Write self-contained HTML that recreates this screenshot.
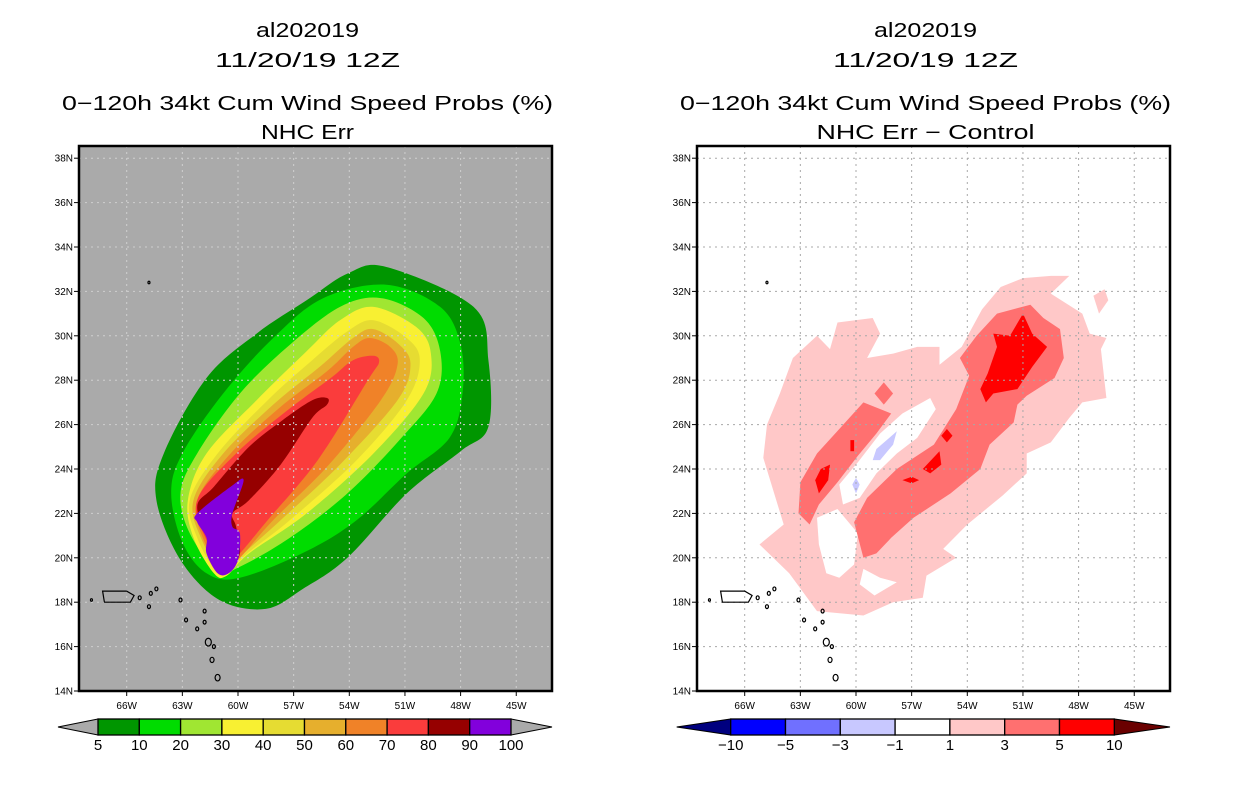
<!DOCTYPE html>
<html><head><meta charset="utf-8"><style>
html,body{margin:0;padding:0;background:#fff;}
svg{display:block;font-family:"Liberation Sans",sans-serif;}
</style></head><body>
<svg id="fig" width="1236" height="800" viewBox="0 0 1236 800" xmlns="http://www.w3.org/2000/svg">
<rect x="0" y="0" width="1236" height="800" fill="#fff"/>
<g id="left"></g>
<g id="right"></g>
</svg>
<script>
// ---------- data ----------
const lonTicks = [66,63,60,57,54,51,48,45];
const latTicks = [14,16,18,20,22,24,26,28,30,32,34,36,38];
const probLevels = ['5','10','20','30','40','50','60','70','80','90','100'];
const probColors = ['#009600','#00dc00','#a0e632','#f8f032','#e6dc32','#e6af2d','#f08228','#fa3c3c','#960000','#8200dc'];
const diffLevels = ['\u221210','\u22125','\u22123','\u22121','1','3','5','10'];
const diffColors = ['#0000ff','#7070ff','#c8c8ff','#ffffff','#ffc8c8','#ff7070','#ff0000'];
// probability contours (deg W, deg N), outer to inner
const p05 = [[52.0,33.1],[47.3,31.3],[46.5,28.9],[46.5,25.9],[48.0,24.8],[50.9,22.9],[54.1,20.0],[56.5,18.6],[58.5,17.7],[61.0,18.1],[63.1,19.9],[64.4,22.6],[64.0,24.7],[61.7,28.1],[59.0,30.1],[56.3,31.6],[54.1,32.8]];
const p10 = [[52.0,32.3],[49.1,31.3],[48.0,29.6],[47.9,27.4],[48.6,25.4],[50.9,23.8],[53.6,21.7],[56.3,20.3],[59.9,19.1],[61.7,19.3],[63.0,20.7],[63.6,22.9],[63.0,24.7],[60.8,27.4],[58.1,29.9],[55.4,31.7]];
const p20 = [[52.3,31.7],[50.0,30.8],[49.1,29.3],[49.3,27.4],[51.3,25.3],[54.1,22.9],[57.2,20.9],[59.9,19.6],[61.1,19.4],[62.6,21.1],[63.1,22.9],[62.2,24.7],[59.9,27.4],[57.2,29.6],[54.5,31.3]];
const p30 = [[52.7,31.3],[50.4,30.4],[49.6,29.2],[50.0,27.4],[52.7,24.7],[56.3,22.0],[59.4,20.2],[60.6,19.2],[61.3,19.3],[62.4,20.9],[62.7,22.6],[61.7,24.7],[59.0,27.1],[56.3,29.3],[54.5,30.7]];
const p40 = [[52.7,30.7],[50.9,29.9],[50.2,28.9],[50.9,27.1],[53.6,24.4],[57.2,21.7],[59.5,20.2],[60.6,19.3],[61.2,19.4],[62.2,20.9],[62.6,22.6],[61.1,24.7],[58.4,27.1],[56.0,28.9],[54.1,30.2]];
const p50 = [[52.7,30.3],[51.3,29.6],[50.7,28.7],[51.4,27.1],[54.5,24.2],[57.7,21.7],[59.7,20.2],[60.8,19.4],[62.0,20.9],[62.4,22.6],[60.8,24.7],[58.1,26.9],[55.6,28.6],[53.8,29.9]];
const p60 = [[52.9,29.9],[51.8,29.5],[51.4,28.7],[52.3,27.1],[55.2,24.1],[58.1,21.7],[59.9,20.0],[60.8,19.5],[61.9,20.9],[62.2,22.6],[60.4,24.7],[57.7,26.8],[55.2,28.4],[53.8,29.5]];
const p70 = [[52.7,29.1],[52.4,28.8],[53.0,28.0],[55.7,24.4],[58.4,21.7],[59.9,20.2],[60.7,19.6],[61.7,20.8],[62.2,22.6],[60.1,24.7],[57.4,26.6],[55.0,28.1],[53.8,28.9]];
const p80 = [[55.2,27.2],[55.2,26.9],[56.0,26.3],[57.7,24.2],[59.4,22.6],[60.3,22.0],[60.1,21.4],[59.9,20.2],[60.5,19.6],[61.5,20.7],[62.2,22.3],[61.3,23.2],[59.4,25.0],[57.6,26.2],[56.0,27.1]];
const p90 = [[59.7,23.5],[60.3,22.0],[60.3,21.4],[59.9,21.1],[60.0,19.9],[60.5,19.3],[61.1,19.3],[61.7,20.2],[61.7,20.9],[62.2,21.6],[62.2,22.0],[60.4,23.2]];
// difference contours
const dPink = [[48.5,32.7],[49.5,31.9],[47.8,31.0],[47.4,30.1],[46.5,29.9],[46.8,29.4],[46.5,27.2],[47.8,27.0],[48.5,26.3],[49.5,25.2],[50.8,24.7],[50.8,23.8],[52.1,22.8],[54.0,21.5],[55.3,20.4],[54.6,20.0],[56.2,19.2],[56.4,18.2],[58.0,18.0],[59.6,17.4],[62.1,17.6],[63.6,19.3],[65.2,20.6],[63.9,21.5],[65.0,24.5],[64.8,26.0],[64.1,27.4],[63.4,29.0],[62.1,30.0],[61.4,29.4],[61.0,30.6],[59.1,30.8],[58.7,30.1],[59.4,29.0],[58.0,29.2],[56.7,29.5],[55.5,29.5],[55.5,28.7],[54.3,29.5],[53.2,31.2],[52.2,32.2],[51.0,32.6],[49.5,32.7]];
const dPinkBlob = [[47.2,31.8],[46.6,32.1],[46.4,31.6],[46.9,31.0]];
const dRedBand = [[59.6,20.0],[60.1,21.6],[59.4,22.7],[57.8,24.0],[55.8,25.1],[54.6,26.7],[53.9,28.2],[54.4,29.0],[53.5,30.0],[52.4,31.0],[50.6,31.4],[49.9,30.8],[49.0,30.3],[48.8,29.0],[49.3,28.1],[50.8,27.3],[51.3,26.9],[51.5,26.1],[52.8,25.1],[53.3,24.0],[54.9,22.9],[56.9,21.8],[58.1,20.9],[58.9,20.2]];
const dRedLeft = [[63.0,23.4],[62.1,24.7],[60.9,25.8],[59.6,27.0],[58.1,26.5],[58.9,25.6],[59.9,24.6],[61.0,23.4],[62.0,22.4],[62.5,21.5],[63.1,22.0]];
const dRedDiamond = [[58.5,27.9],[58.0,27.4],[58.5,26.9],[59.0,27.4]];
const dWhiteCenter = [[56.0,27.2],[55.7,26.7],[56.7,25.4],[57.8,24.7],[58.9,23.8],[59.8,22.7],[60.7,22.4],[60.9,23.3],[59.9,24.3],[58.7,25.6],[57.5,26.5]];
const dWhiteLow = [[62.1,21.8],[61.0,22.2],[59.9,21.1],[60.1,19.7],[60.9,19.1],[61.6,19.3],[62.0,20.6]];
const dWhiteBottom = [[59.6,19.5],[58.7,19.1],[57.8,18.9],[59.0,18.3],[59.8,18.8]];
const dBlue1 = [[57.8,25.7],[58.0,25.1],[58.7,24.4],[59.1,24.4],[58.9,24.9]];
const dBlue2 = [[60.0,23.6],[59.8,23.3],[60.0,22.9],[60.2,23.3]];
const dMaxNE = [[51.0,31.0],[50.5,30.1],[49.7,29.5],[50.5,28.6],[51.3,27.6],[52.6,27.4],[53.0,27.0],[53.3,27.6],[52.9,28.3],[52.4,29.5],[52.6,30.1],[51.7,30.0]];
const dMax2 = [[55.5,24.8],[55.4,24.2],[56.0,23.8],[56.4,24.0]];
const dMax3 = [[55.1,25.8],[54.8,25.5],[55.1,25.2],[55.4,25.5]];
const dMax4 = [[61.4,24.2],[61.5,23.5],[62.0,22.9],[62.2,23.5],[61.9,24.0]];
const dMax5 = [[60.3,25.3],[60.1,25.3],[60.1,24.8],[60.3,24.8]];
const dMax6 = [[57.5,23.5],[57.0,23.65],[56.6,23.5],[57.0,23.35]];
// coastline (Puerto Rico + small islands)
const puertoRico = [[67.3,18.5],[66.0,18.5],[65.6,18.3],[65.8,18.0],[67.2,18.0]];
const islandLon = [64.8,65.3,64.7,64.4,63.1,62.8,62.2,61.8,61.8,61.6,61.3,61.4,61.1,67.9,64.8];
const islandLat = [17.8,18.2,18.4,18.6,18.1,17.2,16.8,17.6,17.1,16.2,16.0,15.4,14.6,18.1,32.4];
const islandSize = [1.5,1.5,1.5,1.5,1.5,1.5,1.5,1.5,1.5,3,1.5,2,2.5,1,1];

// ---------- axes ----------
const NS='http://www.w3.org/2000/svg';
const Y0=691, PXLAT=22.2, X66=126.7, PXLON=18.55;
function xs(lonW, off){ return X66 + (66-lonW)*PXLON + off; }
function ys(lat){ return Y0 - (lat-14)*PXLAT; }
function el(tag, attrs, parent){ const e=document.createElementNS(NS,tag); for(const k in attrs) e.setAttribute(k,attrs[k]); parent.appendChild(e); return e; }
function poly(parent, pts, off, fill, name){
  const d = pts.map(p=>xs(p[0],off).toFixed(1)+','+ys(p[1]).toFixed(1)).join(' ');
  const e = el('polygon',{points:d, fill:fill}, parent);
  
  
  return e;
}
function smooth(parent, pts, off, fill, name){
  const P = pts.map(p=>[xs(p[0],off), ys(p[1])]);
  const n = P.length;
  let d = 'M'+P[0][0].toFixed(1)+','+P[0][1].toFixed(1);
  for(let i=0;i<n;i++){
    const p0=P[(i-1+n)%n], p1=P[i], p2=P[(i+1)%n], p3=P[(i+2)%n];
    const c1=[p1[0]+(p2[0]-p0[0])/6, p1[1]+(p2[1]-p0[1])/6];
    const c2=[p2[0]-(p3[0]-p1[0])/6, p2[1]-(p3[1]-p1[1])/6];
    d += ' C'+c1[0].toFixed(1)+','+c1[1].toFixed(1)+' '+c2[0].toFixed(1)+','+c2[1].toFixed(1)+' '+p2[0].toFixed(1)+','+p2[1].toFixed(1);
  }
  const e = el('path',{d:d+'Z', fill:fill}, parent);
  
  
  return e;
}
function txt(parent, x, y, s, size, anchor, name, len){
  const e = el('text',{x:x,y:y,'font-size':size,'text-anchor':anchor,fill:'#000'},parent);
  if(len){ e.setAttribute('textLength',len); e.setAttribute('lengthAdjust','spacingAndGlyphs'); }
  e.textContent = s;
  
  
  return e;
}

function panel(g, off, bg, sub, subLen){
  const cx = 307.5 + off;
  txt(g, cx, 37, 'al202019', 20, 'middle', 'title-storm-id', 103);
  txt(g, cx, 67, '11/20/19 12Z', 20, 'middle', 'title-date', 185);
  txt(g, cx, 110, '0\u2212120h 34kt Cum Wind Speed Probs (%)', 20, 'middle', 'title-product', 491);
  txt(g, cx, 139, sub, 20, 'middle', 'subtitle', subLen);
  const L = 79+off, R = 552+off, T = 146, B = 691;
  const clipId = 'clip'+off;
  const cp = el('clipPath',{id:clipId}, g);
  el('rect',{x:L,y:T,width:R-L,height:B-T}, cp);
  const plot = el('g',{'clip-path':'url(#'+clipId+')'}, g);
  
  
  el('rect',{x:L,y:T,width:R-L,height:B-T,fill:bg}, plot);
  return {plot, L, R, T, B};
}
function finish(g, P, off, gridCol){
  const grid = el('g',{stroke:gridCol,'stroke-width':1,'stroke-dasharray':'2,4'}, P.plot);
  
  
  lonTicks.forEach(l=>{ const x=xs(l,off); el('line',{x1:x,y1:P.T,x2:x,y2:P.B},grid); });
  latTicks.forEach(l=>{ const y=ys(l); el('line',{x1:P.L,y1:y,x2:P.R,y2:y},grid); });
  const coast = el('g',{fill:'none',stroke:'#000','stroke-width':1.2}, P.plot);
  
  
  poly(coast, puertoRico, off, 'none', 'puerto-rico').setAttribute('stroke','#000');
  islandLon.forEach((lo,i)=>{
    const c = el('ellipse',{cx:xs(lo,off),cy:ys(islandLat[i]),rx:islandSize[i],ry:islandSize[i]*1.3},coast);
    
    
  });
  const fr = el('rect',{x:P.L,y:P.T,width:P.R-P.L,height:P.B-P.T,fill:'none',stroke:'#000','stroke-width':2.5}, g);
  
  
  lonTicks.forEach(l=>{
    const x=xs(l,off);
    el('line',{x1:x,y1:P.B,x2:x,y2:P.B+5,stroke:'#000','stroke-width':1},g);
    txt(g, x, 709, l+'W', 10, 'middle', 'x-tick-label');
  });
  latTicks.forEach(l=>{
    const y=ys(l);
    el('line',{x1:P.L-5,y1:y,x2:P.L,y2:y,stroke:'#000','stroke-width':1},g);
    txt(g, P.L-6, y+3.5, l+'N', 10, 'end', 'y-tick-label');
  });
}
function colorbar(g, x0, x1, tipL, tipR, cols, labels, lcol, rcol, name){
  const cb = el('g',{}, g);
  
  
  const w = (x1-x0)/cols.length, t=719, b=735, m=727;
  el('polygon',{points:`${tipL},${m} ${x0},${t} ${x0},${b}`,fill:lcol,stroke:'#000','stroke-width':1},cb);
  el('polygon',{points:`${tipR},${m} ${x1},${t} ${x1},${b}`,fill:rcol,stroke:'#000','stroke-width':1},cb);
  cols.forEach((c,i)=>{
    const r = el('rect',{x:x0+i*w,y:t,width:w,height:b-t,fill:c,stroke:'#000','stroke-width':1.3},cb);
    
    
  });
  labels.forEach((s,i)=>{ txt(cb, x0+i*w, 750, s, 15, 'middle', 'colorbar-label'); });
}

// ---------- left ----------
const gl = document.getElementById('left');
const PL = panel(gl, 0, '#aaaaaa', 'NHC Err', 93);
[p05,p10,p20,p30,p40,p50,p60,p70,p80,p90].forEach((c,i)=>smooth(PL.plot, c, 0, probColors[i], 'prob-contour-'+probLevels[i]));
finish(gl, PL, 0, '#cfcfcf');
colorbar(gl, 98, 511, 58, 552, probColors, probLevels, '#aaaaaa', '#aaaaaa', 'prob-colorbar');

// ---------- right ----------
const OFF = 618;
const gr = document.getElementById('right');
const PR = panel(gr, OFF, '#ffffff', 'NHC Err \u2212 Control', 218);
poly(PR.plot, dPink, OFF, '#ffc8c8', 'diff-1-3');
poly(PR.plot, dPinkBlob, OFF, '#ffc8c8', 'diff-1-3-blob');
poly(PR.plot, dWhiteLow, OFF, '#ffffff', 'diff-neutral-low');
poly(PR.plot, dWhiteBottom, OFF, '#ffffff', 'diff-neutral-bottom');
poly(PR.plot, dRedBand, OFF, '#ff7070', 'diff-3-5-band');
poly(PR.plot, dRedLeft, OFF, '#ff7070', 'diff-3-5-left');
poly(PR.plot, dRedDiamond, OFF, '#ff7070', 'diff-3-5-spot');
poly(PR.plot, dWhiteCenter, OFF, '#ffffff', 'diff-neutral-center');
poly(PR.plot, dBlue1, OFF, '#c8c8ff', 'diff-neg-1-3');
poly(PR.plot, dBlue2, OFF, '#c8c8ff', 'diff-neg-1-3-small');
[dMaxNE,dMax2,dMax3,dMax4,dMax5,dMax6].forEach(c=>poly(PR.plot, c, OFF, '#ff0000', 'diff-5-10'));
finish(gr, PR, OFF, '#a8a8a8');
colorbar(gr, 730.7, 1114.3, 676.7, 1170, diffColors, diffLevels, '#00007f', '#6a0000', 'diff-colorbar');
</script>
</body></html>
